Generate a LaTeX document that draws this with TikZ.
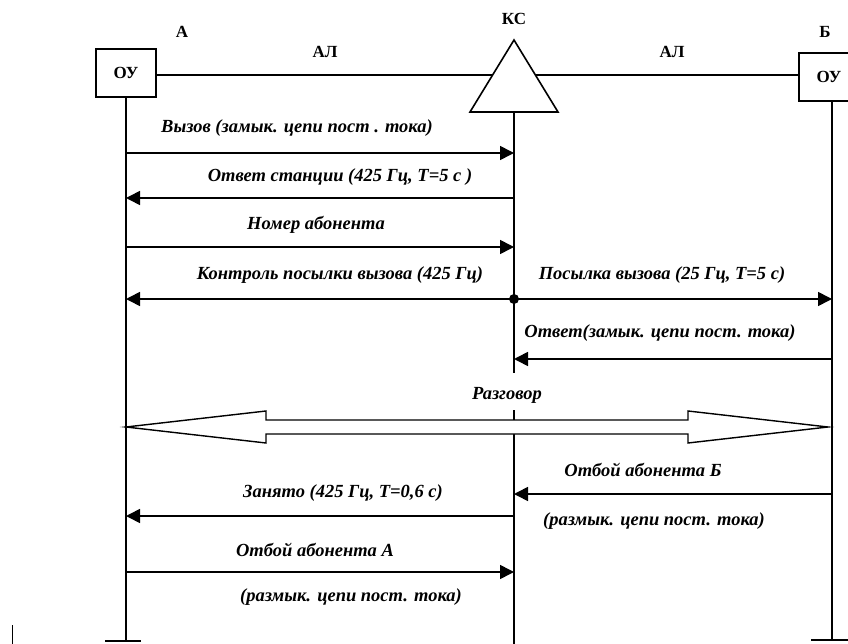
\documentclass[tikz,border=0pt]{standalone}
\usepackage{fontspec}
\setmainfont{Liberation Serif}
\usetikzlibrary{arrows.meta}
\begin{document}
\begin{tikzpicture}[x=1pt,y=-1pt,line width=1.6pt,
    oubox/.style={draw,minimum width=60pt,minimum height=48pt,inner sep=0pt,
      font=\bfseries\fontsize{17}{19}\selectfont},
    lbl/.style={font=\bfseries\fontsize{17}{19}\selectfont},
    msgtext/.style={font=\bfseries\itshape\fontsize{18.5}{21}\selectfont},
    msg/.style={-{Triangle[length=14pt,width=14pt]}},
    bar/.style={line width=2.4pt}]

    \useasboundingbox (0,0) rectangle (848,644);

    % Terminals and station
    \node[oubox] (ouA) at (126,73) {ОУ};
    \node[oubox] (ouB) at (829,77) {ОУ};
    \coordinate (ksTop) at (514,40);
    \coordinate (ksL) at (470,112);
    \coordinate (ksR) at (558,112);
    \draw (ksTop) -- (ksL) -- (ksR) -- cycle;
    \coordinate (ksLin) at (492.6,75);
    \coordinate (ksRin) at (535.4,75);

    \node[lbl] (labA) at (182,32) {А};
    \node[lbl] (labK) at (514,19) {КС};
    \node[lbl] (labB) at (825,32) {Б};
    \node[lbl] (alA) at (325,52) {АЛ};
    \node[lbl] (alB) at (672,52) {АЛ};

    % Subscriber lines
    \draw (ouA.east |- ksLin) -- (ksLin);
    \draw (ksRin) -- (ouB.west |- ksRin);

    % Lifelines
    \coordinate (endA) at (126,641);
    \coordinate (endK) at (514,644);
    \coordinate (endB) at (832,640);
    \coordinate (gapTop) at (514,373);
    \coordinate (gapBot) at (514,410);
    \draw (ouA.south) -- (endA);
    \draw (514,112) -- (gapTop);
    \draw (gapBot) -- (endK);
    \draw (ouB.south -| endB) -- (endB);
    \draw[bar] (105,641) -- (141,641);
    \draw[bar] (811,640) -- (848,640);
    \draw[line width=0.8pt] (12,625) -- (12,644);

    % Message rows
    \foreach \r/\y in {r1/153, r2/198, r3/247, r4/299, r6/359, r8/494, r9/516, r10/572}
        \coordinate (\r) at (0,\y);

    \draw[msg] (endA |- r1) -- (endK |- r1);
    \draw[msg] (endK |- r2) -- (endA |- r2);
    \draw[msg] (endA |- r3) -- (endK |- r3);
    \draw[msg] (endK |- r4) -- (endA |- r4);
    \draw[msg] (endK |- r4) -- (endB |- r4);
    \fill (endK |- r4) circle (5pt);
    \draw[msg] (endB |- r6) -- (endK |- r6);
    \draw[msg] (endB |- r8) -- (endK |- r8);
    \draw[msg] (endK |- r9) -- (endA |- r9);
    \draw[msg] (endA |- r10) -- (endK |- r10);

    \node[msgtext] (t1) at (297,128) {Вызов (замык. цепи пост . тока)};
    \node[msgtext] (t2) at (340,177) {Ответ станции (425 Гц, T=5 с )};
    \node[msgtext] (t3) at (316,225) {Номер абонента};
    \node[msgtext] (t4) at (340,275) {Контроль посылки вызова (425 Гц)};
    \node[msgtext] (t5) at (662,275) {Посылка вызова (25 Гц, T=5 с)};
    \node[msgtext] (t6) at (660,333) {Ответ(замык. цепи пост. тока)};
    \node[msgtext] (t8) at (643,470) {Отбой абонента Б};
    \node[msgtext] (t8b) at (654,521) {(размык. цепи пост. тока)};
    \node[msgtext] (t9) at (343,493) {Занято (425 Гц, T=0,6 с)};
    \node[msgtext] (t10) at (315,550) {Отбой абонента А};
    \node[msgtext] (t10b) at (351,597) {(размык. цепи пост. тока)};

    % Conversation
    \node[font=\bfseries\itshape\fontsize{18.5}{21}\selectfont] (talk) at (507,395) {Разговор};
    \filldraw[fill=white,line width=1.4pt]
        (126,427) -- (266,411) -- (266,420) -- (688,420) -- (688,411) -- (828,427)
        -- (688,443) -- (688,434) -- (266,434) -- (266,443) -- cycle;

\end{tikzpicture}
\end{document}
